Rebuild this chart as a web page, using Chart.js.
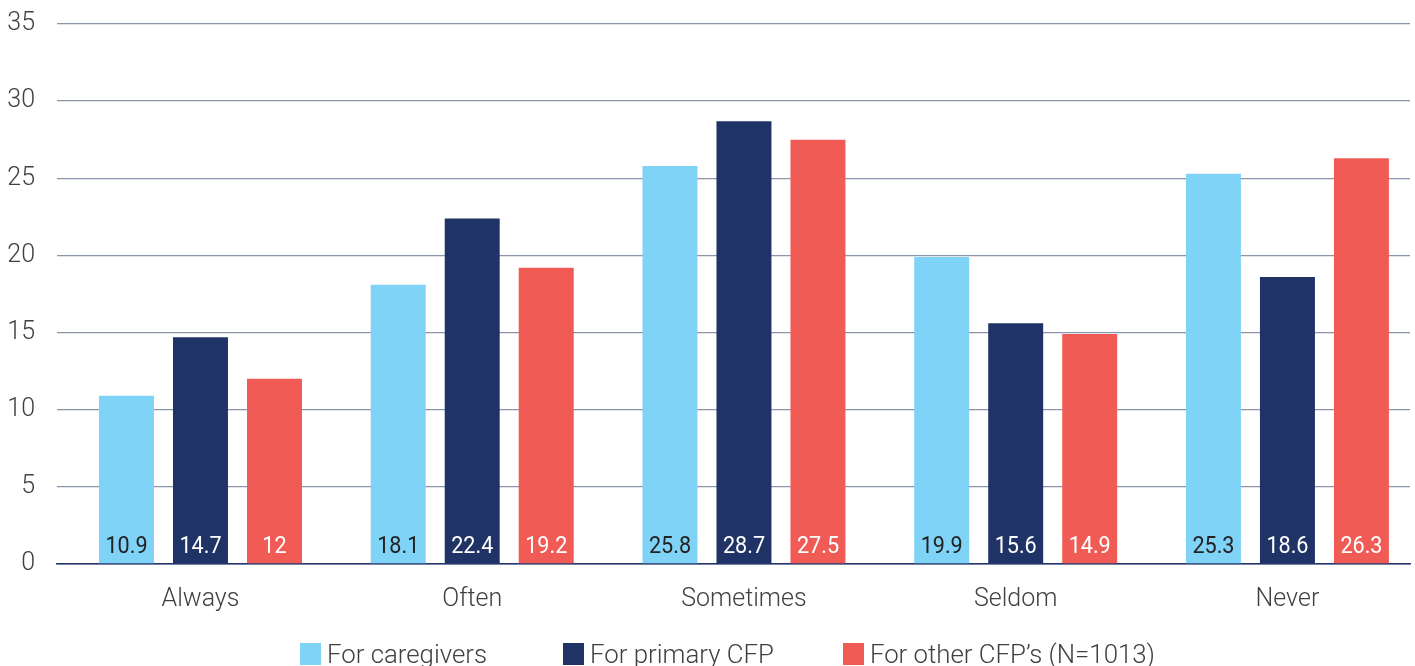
<!DOCTYPE html>
<html lang="en">
<head>
  <meta charset="UTF-8" />
  <title>Bar chart</title>
  <script src="https://cdn.jsdelivr.net/npm/chart.js"></script>
  <style>
    html, body { margin: 0; padding: 0; background: #fff; }
    .wrap { position: relative; width: 1415px; height: 666px; overflow: hidden; }
    .legend {
      position: absolute; left: 300px; top: 640px;
      display: flex;
      font-family: Roboto, sans-serif; font-weight: 300; font-size: 25.8px;
      line-height: 28px; color: #404040;
    }
    .legend span { display: flex; align-items: center; white-space: nowrap; margin-right: 76px; }
    .legend span:nth-child(2) { margin-right: 69px; }
    .legend i { display: inline-block; width: 21px; height: 22px; margin-right: 6px; }
  </style>
</head>
<body>
  <div class="wrap">
    <canvas id="chart" width="1415" height="666"></canvas>
    <div class="legend" id="legend"></div>
  </div>

  <script>
    // data
    const categories = ['Always', 'Often', 'Sometimes', 'Seldom', 'Never'];
    const seriesNames = ['For caregivers', 'For primary CFP', 'For other CFP\u2019s (N=1013)'];
    const caregivers = [10.9, 18.1, 25.8, 19.9, 25.3];
    const primaryCfp = [14.7, 22.4, 28.7, 15.6, 18.6];
    const otherCfp = [12, 19.2, 27.5, 14.9, 26.3];
    const yTicks = [0, 5, 10, 15, 20, 25, 30, 35];

    const colors = ['#7fd3f7', '#1f3366', '#f05c55'];
    const labelColors = ['#222222', '#ffffff', '#ffffff'];

    const toPoints = arr => arr.map((v, i) => ({ x: i, y: v }));

    // value labels at the bottom of each bar
    const barLabels = {
      id: 'barLabels',
      afterDatasetsDraw(chart) {
        const ctx = chart.ctx;
        ctx.save();
        ctx.font = '400 24px Roboto, sans-serif';
        ctx.textAlign = 'center';
        ctx.textBaseline = 'alphabetic';
        chart.data.datasets.forEach((ds, di) => {
          const meta = chart.getDatasetMeta(di);
          ctx.fillStyle = labelColors[di];
          meta.data.forEach((bar, i) => {
            const txt = String(ds.data[i].y);
            ctx.save();
            ctx.translate(bar.x, bar.base - 10);
            ctx.scale(0.9, 1);
            ctx.fillText(txt, 0, 0);
            ctx.restore();
          });
        });
        ctx.restore();
      }
    };

    const chart = new Chart(document.getElementById('chart'), {
      type: 'bar',
      data: {
        datasets: [
          { label: seriesNames[0], data: toPoints(caregivers), backgroundColor: colors[0] },
          { label: seriesNames[1], data: toPoints(primaryCfp), backgroundColor: colors[1] },
          { label: seriesNames[2], data: toPoints(otherCfp), backgroundColor: colors[2] }
        ]
      },
      options: {
        responsive: false,
        animation: false,
        categoryPercentage: 0.817,
        barPercentage: 0.743,
        layout: { padding: { left: 0, right: 5, top: 24, bottom: 30 } },
        plugins: {
          legend: { display: false },
          tooltip: { enabled: false }
        },
        scales: {
          x: {
            type: 'linear',
            offset: false,
            min: -0.528,
            max: 4.451,
            afterBuildTicks: s => { s.ticks = categories.map((c, i) => ({ value: i })); },
            grid: { display: false, drawTicks: false, offset: false },
            border: { display: true, color: '#26366b', width: 1.5 },
            ticks: {
              padding: 21,
              maxRotation: 0,
              autoSkip: false,
              color: '#404040',
              font: { family: 'Roboto', weight: 300, size: 25 },
              callback: (v, i) => categories[i]
            }
          },
          y: {
            min: 0,
            max: 35,
            afterBuildTicks: s => { s.ticks = yTicks.map(v => ({ value: v })); },
            afterFit: s => { s.width = 57; },
            border: { display: false },
            grid: {
              drawTicks: true,
              tickLength: 22,
              tickColor: 'rgba(0,0,0,0)',
              color: c => c.tick && c.tick.value === 0 ? '#26366b' : '#8a95ad',
              lineWidth: 1.3
            },
            ticks: {
              padding: 0,
              color: '#404040',
              font: { family: 'Roboto', weight: 300, size: 25 }
            }
          }
        }
      },
      plugins: [barLabels]
    });

    // legend built from the chart's own legend items
    const legendEl = document.getElementById('legend');
    chart.options.plugins.legend.labels.generateLabels(chart).forEach(item => {
      const span = document.createElement('span');
      const box = document.createElement('i');
      box.style.background = item.fillStyle;
      span.appendChild(box);
      span.appendChild(document.createTextNode(item.text));
      legendEl.appendChild(span);
    });
  </script>
</body>
</html>
